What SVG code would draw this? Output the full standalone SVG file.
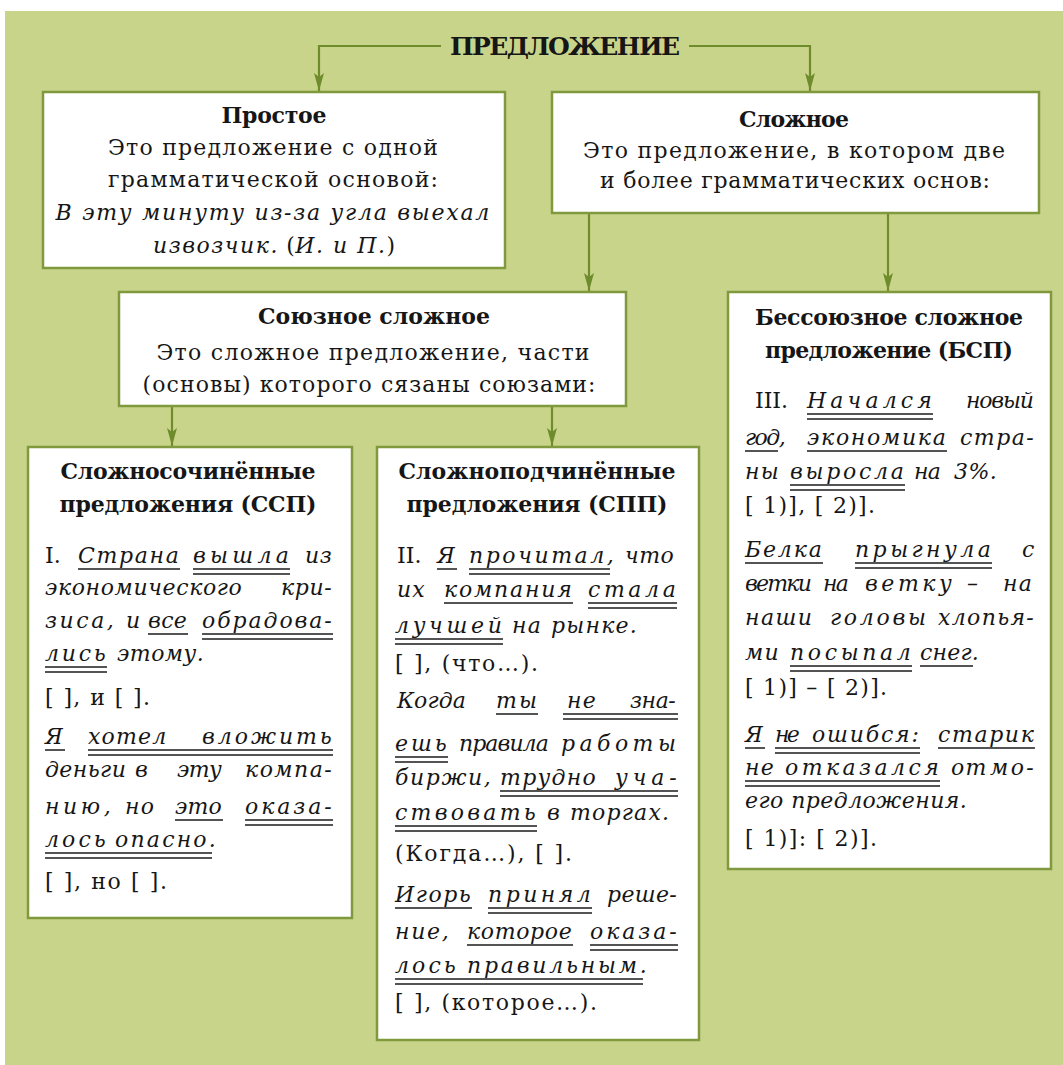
<svg xmlns="http://www.w3.org/2000/svg" width="1063" height="1065" viewBox="0 0 1063 1065">
<defs>
<style>
text{font-family:"DejaVu Serif","Liberation Serif",serif;fill:#161616;font-size:22px}
.t{font-weight:bold;font-size:25px}
.b{font-weight:bold}
.r{font-style:normal;letter-spacing:0}
.i{font-style:italic;letter-spacing:1.2px}
.c{text-anchor:middle}
.box{fill:#ffffff;stroke:#7f993c;stroke-width:2.5}
.con{fill:none;stroke:#6f8c2c;stroke-width:2.2}
.u{stroke:#1c1c1c;stroke-width:1.6;fill:none}
</style>
<marker id="ah" viewBox="0 0 10 18" refX="5" refY="18" markerWidth="10" markerHeight="18" markerUnits="userSpaceOnUse" orient="0">
<path d="M0,0 L5,4 L10,0 L5,18 Z" fill="#6f8c2c"/>
</marker>
</defs>
<rect x="5" y="11" width="1058" height="1054" fill="#c9d48b"/>

<g id="connectors">
<path class="con" d="M441,46 H319 V91" marker-end="url(#ah)"/>
<path class="con" d="M689,46 H810 V91" marker-end="url(#ah)"/>
<path class="con" d="M589,214 V291" marker-end="url(#ah)"/>
<path class="con" d="M888,214 V291" marker-end="url(#ah)"/>
<path class="con" d="M172,407 V446" marker-end="url(#ah)"/>
<path class="con" d="M552,407 V446" marker-end="url(#ah)"/>
</g>

<g id="title">
<text class="t c" x="565" y="55" textLength="230">ПРЕДЛОЖЕНИЕ</text>
</g>

<g id="prostoe">
<rect class="box" x="43" y="92" width="462" height="176"/>
<text class="b c" x="274" y="123" textLength="105">Простое</text>
<text class="c" x="273" y="155" textLength="330">Это предложение с одной</text>
<text class="c" x="273" y="187" textLength="330">грамматической основой:</text>
<text class="c i" x="273" y="220" textLength="435">В эту минуту из-за угла выехал</text>
<text class="c" x="274" y="253" textLength="242"><tspan class="i">извозчик.</tspan> (<tspan class="i">И. и П.</tspan>)</text>
</g>

<g id="slozhnoe">
<rect class="box" x="552" y="92" width="487" height="121"/>
<text class="b c" x="794" y="127" textLength="110">Сложное</text>
<text class="c" x="794" y="158" textLength="422">Это предложение, в котором две</text>
<text class="c" x="795" y="188" textLength="390">и более грамматических основ:</text>
</g>

<g id="soyuznoe">
<rect class="box" x="119" y="292" width="507" height="114"/>
<text class="b c" x="374" y="324" textLength="232">Союзное сложное</text>
<text class="c" x="373" y="360" textLength="433">Это сложное предложение, части</text>
<text class="c" x="369" y="392" textLength="453">(основы) которого сязаны союзами:</text>
</g>

<g id="ssp">
<rect class="box" x="28" y="447" width="324" height="471"/>
<text class="b c" x="188" y="479" textLength="255">Сложносочинённые</text>
<text class="b c" x="188" y="512" textLength="257">предложения (ССП)</text>
<text class="i" y="563"><tspan class="r" x="45">I.</tspan> <tspan x="78" textLength="102">Страна</tspan> <tspan x="193" textLength="97">вышла</tspan> <tspan x="305" textLength="28">из</tspan></text>
<text class="i" y="595"><tspan x="45" textLength="198">экономического</tspan> <tspan x="281" textLength="52">кри-</tspan></text>
<text class="i" y="628"><tspan x="45" textLength="70">зиса,</tspan> <tspan x="126">и</tspan> <tspan x="148" textLength="40">все</tspan> <tspan x="202" textLength="131">обрадова-</tspan></text>
<text class="i" y="661"><tspan x="45" textLength="62">лись</tspan> <tspan x="117" textLength="88">этому.</tspan></text>
<text class="r" x="45" y="705" textLength="105">[ ], и [ ].</text>
<text class="i" y="744"><tspan x="45">Я</tspan> <tspan x="88">хотел</tspan> <tspan x="202" textLength="131">вложить</tspan></text>
<text class="i" y="777"><tspan x="45" textLength="82">деньги</tspan> <tspan x="135">в</tspan> <tspan x="177" textLength="46">эту</tspan> <tspan x="245" textLength="88">компа-</tspan></text>
<text class="i" y="814"><tspan x="45" textLength="67">нию,</tspan> <tspan x="125">но</tspan> <tspan x="175" textLength="48">это</tspan> <tspan x="245" textLength="88">оказа-</tspan></text>
<text class="i" y="847"><tspan x="45" textLength="62">лось</tspan> <tspan x="115" textLength="102">опасно.</tspan></text>
<text class="r" x="45" y="889" textLength="122">[ ], но [ ].</text>
<path class="u" d="M78,569 H180 M193,569 H290 M193,574 H290 M148,634 H188 M202,634 H333 M202,639 H333 M45,667 H107 M45,672 H107 M45,750 H65 M88,750 H333 M88,755 H333 M175,820 H223 M245,820 H333 M245,825 H333 M45,853 H212 M45,858 H212"/>
</g>

<g id="spp">
<rect class="box" x="377" y="447" width="322" height="593"/>
<text class="b c" x="537" y="479" textLength="277">Сложноподчинённые</text>
<text class="b c" x="537" y="512" textLength="261">предложения (СПП)</text>
<text class="i" y="563"><tspan class="r" x="397">II.</tspan> <tspan x="437">Я</tspan> <tspan x="469" textLength="146">прочитал,</tspan> <tspan x="625" textLength="50">что</tspan></text>
<text class="i" y="597"><tspan x="397">их</tspan> <tspan x="444" textLength="129">компания</tspan> <tspan x="588" textLength="89">стала</tspan></text>
<text class="i" y="633"><tspan x="395" textLength="108">лучшей</tspan> <tspan x="512">на</tspan> <tspan x="551" textLength="87">рынке.</tspan></text>
<text class="r" x="395" y="671" textLength="143">[ ], (что…).</text>
<text class="i" y="708"><tspan x="397" textLength="70">Когда</tspan> <tspan x="496" textLength="42">ты</tspan> <tspan x="567">не</tspan> <tspan x="630" textLength="47">зна-</tspan></text>
<text class="i" y="751"><tspan x="395" textLength="53">ешь</tspan> <tspan x="459" textLength="91">правила</tspan> <tspan x="561" textLength="116">работы</tspan></text>
<text class="i" y="785"><tspan x="395" textLength="97">биржи,</tspan> <tspan x="500" textLength="97">трудно</tspan> <tspan x="615" textLength="63">уча-</tspan></text>
<text class="i" y="820"><tspan x="395" textLength="142">ствовать</tspan> <tspan x="547">в</tspan> <tspan x="570">торгах.</tspan></text>
<text class="r" x="395" y="861" textLength="177">(Когда…), [ ].</text>
<text class="i" y="902"><tspan x="395" textLength="77">Игорь</tspan> <tspan x="488" textLength="104">принял</tspan> <tspan x="607" textLength="71">реше-</tspan></text>
<text class="i" y="939"><tspan x="395" textLength="55">ние,</tspan> <tspan x="467" textLength="106">которое</tspan> <tspan x="590" textLength="88">оказа-</tspan></text>
<text class="i" y="973"><tspan x="395" textLength="62">лось</tspan> <tspan x="467" textLength="181">правильным.</tspan></text>
<text class="r" x="395" y="1010" textLength="202">[ ], (которое…).</text>
<path class="u" d="M437,569 H457 M469,569 H610 M469,574 H610 M444,603 H573 M588,603 H677 M588,608 H677 M395,639 H503 M395,644 H503 M496,714 H538 M563,714 H678 M563,719 H678 M395,757 H448 M395,762 H448 M500,791 H678 M500,796 H678 M395,826 H537 M395,831 H537 M395,908 H472 M488,908 H592 M488,913 H592 M467,945 H573 M590,945 H678 M590,950 H678 M395,979 H643 M395,984 H643"/>
</g>

<g id="bsp">
<rect class="box" x="728" y="292" width="323" height="577"/>
<text class="b c" x="889" y="325" textLength="268">Бессоюзное сложное</text>
<text class="b c" x="889" y="358" textLength="248">предложение (БСП)</text>
<text class="i" y="408"><tspan class="r" x="755" textLength="33">III.</tspan> <tspan x="807" textLength="126">Начался</tspan> <tspan x="966" textLength="69">новый</tspan></text>
<text class="i" y="445"><tspan x="745" textLength="42">год,</tspan> <tspan x="807" textLength="140">экономика</tspan> <tspan x="960" textLength="75">стра-</tspan></text>
<text class="i" y="479"><tspan x="745">ны</tspan> <tspan x="790" textLength="115">выросла</tspan> <tspan x="914" textLength="28">на</tspan> <tspan x="954" textLength="44">3%.</tspan></text>
<text class="r" x="745" y="513" textLength="130">[ 1)], [ 2)].</text>
<text class="i" y="557"><tspan x="745" textLength="78">Белка</tspan> <tspan x="855" textLength="137">прыгнула</tspan> <tspan x="1022">с</tspan></text>
<text class="i" y="591"><tspan x="745" textLength="68">ветки</tspan> <tspan x="823" textLength="27">на</tspan> <tspan x="865" textLength="88">ветку</tspan> <tspan x="967">–</tspan> <tspan x="1003">на</tspan></text>
<text class="i" y="625"><tspan x="745" textLength="68">наши</tspan> <tspan x="830" textLength="97">головы</tspan> <tspan x="938" textLength="97">хлопья-</tspan></text>
<text class="i" y="660"><tspan x="745">ми</tspan> <tspan x="790" textLength="122">посыпал</tspan> <tspan x="920" textLength="60">снег.</tspan></text>
<text class="r" x="745" y="695" textLength="142">[ 1)] – [ 2)].</text>
<text class="i" y="742"><tspan x="745">Я</tspan> <tspan x="775" textLength="26">не</tspan> <tspan x="812" textLength="108">ошибся:</tspan> <tspan x="938" textLength="97">старик</tspan></text>
<text class="i" y="775"><tspan x="745">не</tspan> <tspan x="785" textLength="155">отказался</tspan> <tspan x="951">от</tspan> <tspan x="990" textLength="45">мо-</tspan></text>
<text class="i" x="745" y="808" textLength="223">его предложения.</text>
<text class="r" x="745" y="846" textLength="132">[ 1)]: [ 2)].</text>
<path class="u" d="M807,414 H933 M807,419 H933 M745,451 H778 M807,451 H947 M790,485 H905 M790,490 H905 M745,563 H823 M855,563 H992 M855,568 H992 M790,666 H912 M790,671 H912 M920,666 H973 M745,748 H765 M775,748 H920 M775,753 H920 M938,748 H1035 M745,781 H940 M745,786 H940"/>
</g>
</svg>
